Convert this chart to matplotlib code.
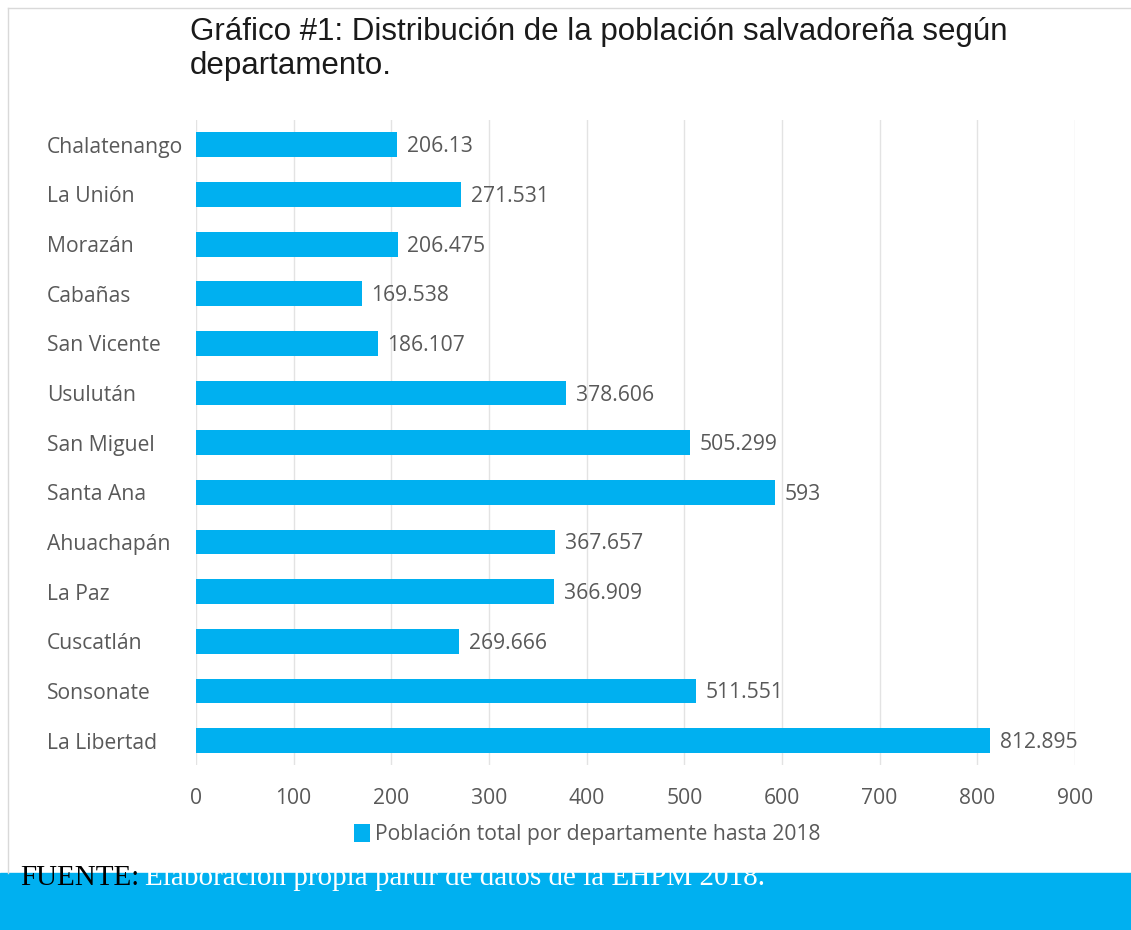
import matplotlib.pyplot as plt
from matplotlib.patches import Rectangle
from matplotlib.lines import Line2D

departamentos = ["Chalatenango", "La Unión", "Morazán", "Cabañas", "San Vicente",
                 "Usulután", "San Miguel", "Santa Ana", "Ahuachapán", "La Paz",
                 "Cuscatlán", "Sonsonate", "La Libertad"]
poblacion = [206.13, 271.531, 206.475, 169.538, 186.107, 378.606, 505.299,
             593, 367.657, 366.909, 269.666, 511.551, 812.895]
etiquetas = ["206.13", "271.531", "206.475", "169.538", "186.107", "378.606",
             "505.299", "593", "367.657", "366.909", "269.666", "511.551", "812.895"]
ticks_x = [0, 100, 200, 300, 400, 500, 600, 700, 800, 900]

azul = "#00B0F0"
gris_texto = "#595959"
fs = 15.2

fig = plt.figure(figsize=(11.31, 9.30), dpi=100)
ax = fig.add_axes([0.1733, 0.177, 0.7772, 0.694])

# reverse so the first category sits on top
ypos = list(range(len(departamentos)))[::-1]
ax.barh(ypos, poblacion, height=0.5, color=azul, zorder=3,
        label="Población total por departamente hasta 2018")

for y, v, lab in zip(ypos, poblacion, etiquetas):
    ax.text(v + 10, y - 0.04, lab, va="center", ha="left", fontsize=fs,
            family="Open Sans", color=gris_texto)

ax.set_xlim(0, 900)
ax.set_ylim(-0.5, len(departamentos) - 0.5)
ax.set_xticks(ticks_x)
ax.set_xticklabels([str(t) for t in ticks_x], family="Open Sans", fontsize=fs,
                   color=gris_texto)
ax.set_yticks(ypos)
ax.set_yticklabels(departamentos, family="Open Sans", fontsize=fs, color=gris_texto)
ax.tick_params(axis="both", length=0)
ax.tick_params(axis="x", pad=16)
for lbl in ax.get_yticklabels():
    lbl.set_horizontalalignment("left")
    lbl.set_x(-0.164)

ax.grid(axis="x", color="#E3E3E3", linewidth=1, zorder=0)
for s in ax.spines.values():
    s.set_visible(False)

leg = fig.legend(loc="upper center", bbox_to_anchor=(0.519, 0.134), frameon=False,
                 prop={"family": "Open Sans", "size": fs}, handlelength=0.75,
                 handleheight=0.9, handletextpad=0.25, labelcolor=gris_texto)

fig.text(0.168, 0.982, "Gráfico #1: Distribución de la población salvadoreña según\ndepartamento.",
         ha="left", va="top", fontsize=22.5, family="Liberation Sans", color="#1a1a1a",
         linespacing=1.2)

# frame of the screenshot
fig.add_artist(Line2D([0.007, 1.0], [0.991, 0.991], color="#D9D9D9", lw=1))
fig.add_artist(Line2D([0.007, 0.007], [0.0613, 0.991], color="#D9D9D9", lw=1))

# bottom band with source note
fig.add_artist(Rectangle((0, 0), 1, 0.0613, transform=fig.transFigure,
                         color=azul, zorder=1))
fig.text(0.018, 0.048, "FUENTE:", ha="left", va="baseline", fontsize=21,
         family="Liberation Serif", color="black", zorder=2)
fig.text(0.128, 0.048, "Elaboración propia partir de datos de la EHPM 2018.",
         ha="left", va="baseline", fontsize=21, family="Liberation Serif",
         color="white", zorder=2)

fig.savefig("out.png", dpi=100)
